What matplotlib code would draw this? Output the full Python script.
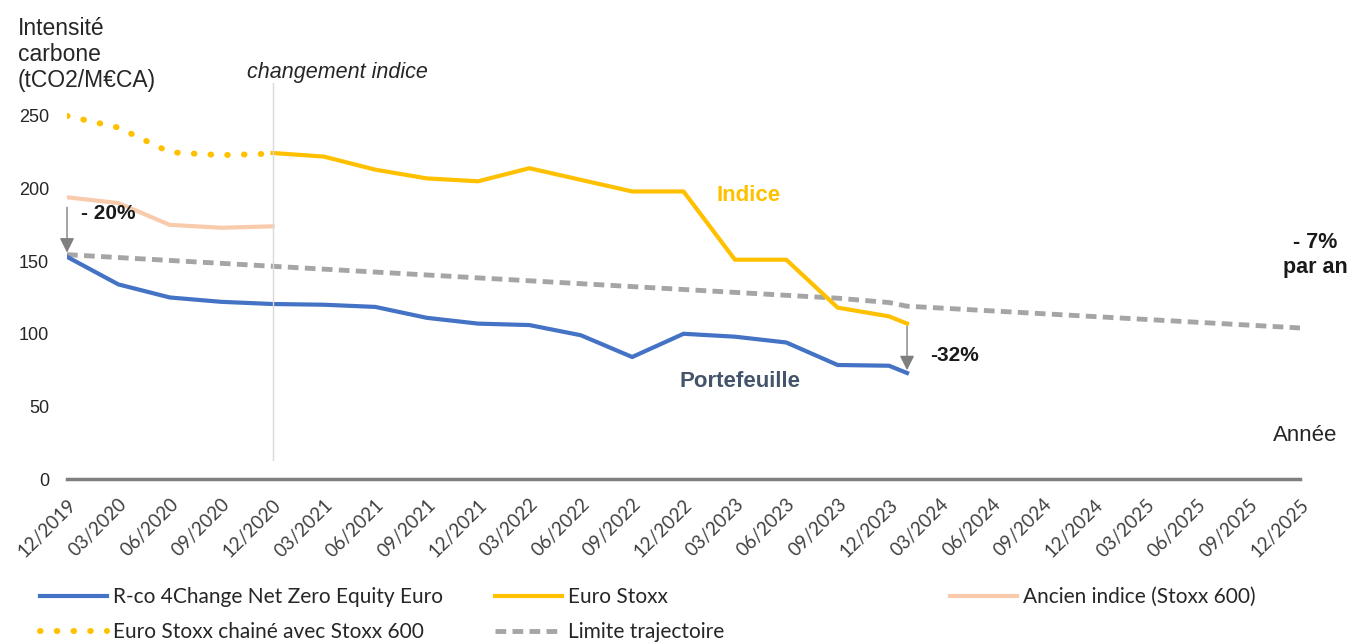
import matplotlib
matplotlib.use('Agg')
import matplotlib.pyplot as plt

plt.rcParams['font.family'] = ['Liberation Sans', 'DejaVu Sans']

dates = ['12/2019', '03/2020', '06/2020', '09/2020', '12/2020', '03/2021', '06/2021',
         '09/2021', '12/2021', '03/2022', '06/2022', '09/2022', '12/2022', '03/2023',
         '06/2023', '09/2023', '12/2023', '03/2024', '06/2024', '09/2024', '12/2024',
         '03/2025', '06/2025', '09/2025', '12/2025']

# positions en trimestres depuis 12/2019 (dernier point : fin janvier 2024)
pos_pf = [0, 1, 2, 3, 4, 5, 6, 7, 8, 9, 10, 11, 12, 13, 14, 15, 16, 16.35]
portefeuille = [153, 134, 125, 122, 120.5, 120, 118.5, 111, 107, 106, 99, 84, 100, 98,
                94, 78.5, 78, 73]
pos_es = [4, 5, 6, 7, 8, 9, 10, 11, 12, 13, 14, 15, 16, 16.35]
euro_stoxx = [224.5, 222, 213, 207, 205, 214, 206, 198, 198, 151, 151, 118, 112, 107]
pos_old = [0, 1, 2, 3, 4]
ancien_indice = [194, 190, 175, 173, 174]
chaine = [250, 242, 225, 223, 224]
pos_lim = [0, 1, 2, 3, 4, 5, 6, 7, 8, 9, 10, 11, 12, 13, 14, 15, 16, 16.35, 24]
limite = [154.5, 152.5, 150.5, 148.5, 146.5, 144.5, 142.5, 140.5, 138.5, 136.5, 134.5,
          132.5, 130.5, 128.5, 126.5, 124.5, 121.5, 119, 104]

BLUE = '#4472C4'
GOLD = '#FFC000'
PEACH = '#F8CBAD'
GREY = '#A5A5A5'
TXT = '#262626'

fig = plt.figure(figsize=(13.51, 6.44), dpi=100)
ax = fig.add_axes([0.0496, 0.2562, 0.9127, 0.61])

l_lim, = ax.plot(pos_lim, limite, color=GREY, lw=3.5, ls=(0, (2.2, 1.3)),
                 label='Limite trajectoire')
l_anc, = ax.plot(pos_old, ancien_indice, color=PEACH, lw=3, label='Ancien indice (Stoxx 600)')
l_ch, = ax.plot(pos_old, chaine, color=GOLD, lw=4.3, ls=(0, (0.1, 2.7)),
                dash_capstyle='round', label='Euro Stoxx chainé avec Stoxx 600')
l_es, = ax.plot(pos_es, euro_stoxx, color=GOLD, lw=3, label='Euro Stoxx')
l_pf, = ax.plot(pos_pf, portefeuille, color=BLUE, lw=3,
                label='R-co 4Change Net Zero Equity Euro')

ymax = 270.5
ax.set_xlim(0, len(dates) - 1)
ax.set_ylim(0, ymax)
ax.set_xticks(range(len(dates)))
ax.set_xticklabels(dates, rotation=45, ha='right', rotation_mode='anchor',
                   family=['Lato', 'DejaVu Sans'], fontsize=13.5, color='#404040')
ax.set_yticks([0, 50, 100, 150, 200, 250])
ax.tick_params(axis='y', length=0, labelsize=13, colors=TXT, pad=13)
ax.tick_params(axis='x', length=0, pad=12)
for s in ['top', 'right', 'left']:
    ax.spines[s].set_visible(False)
ax.spines['bottom'].set_color('#7F7F7F')
ax.spines['bottom'].set_linewidth(2.5)

# changement d'indice
ax.axvline(4, ymin=13 / ymax, ymax=273 / ymax, color='#D9D9D9', lw=1, clip_on=False)
ax.text(5.26, 280, 'changement indice', style='italic', fontsize=15.5, color=TXT,
        ha='center', va='center', clip_on=False)

# flèches
ax.annotate('', xy=(0, portefeuille[0] + 1), xytext=(0, ancien_indice[0] - 5),
            arrowprops=dict(arrowstyle='-|>', color='#7F7F7F', lw=1, mutation_scale=22))
ax.annotate('', xy=(pos_pf[-1], portefeuille[-1]), xytext=(pos_es[-1], euro_stoxx[-1]),
            arrowprops=dict(arrowstyle='-|>', color='#7F7F7F', lw=1, mutation_scale=22))

ax.text(0.27, 183, '- 20%', fontsize=15, fontweight='bold', color='#1a1a1a', va='center')
ax.text(16.8, 84.7, '-32%', fontsize=15, fontweight='bold', color='#1a1a1a', va='center')
ax.text(24.3, 154, '- 7%\npar an', fontsize=15.5, fontweight='bold', color='#1a1a1a',
        ha='center', va='center', clip_on=False, linespacing=1.25)
ax.text(13.26, 195, 'Indice', fontsize=16, fontweight='bold', color=GOLD, ha='center',
        va='center')
ax.text(13.1, 66.8, 'Portefeuille', fontsize=16, fontweight='bold', color='#44546A',
        ha='center', va='center')
ax.text(24.1, 30, 'Année', fontsize=16, color=TXT, ha='center', va='center',
        clip_on=False)

fig.text(0.0133, 1 - 17 / 644, 'Intensité\ncarbone\n(tCO2/M€CA)', fontsize=16.5,
         color=TXT, ha='left', va='top', linespacing=1.18)

# légende en trois colonnes fixes
cols = [([l_pf, l_ch], 40), ([l_es, l_lim], 495), ([l_anc], 950)]
for handles, xpix in cols:
    fig.legend(handles, [h.get_label() for h in handles], loc='upper left',
               bbox_to_anchor=(xpix / 1351, 1 - 587 / 644), frameon=False,
               prop={'family': ['Lato', 'DejaVu Sans'], 'size': 15},
               handlelength=3.2, handletextpad=0.3, labelspacing=0.72,
               borderpad=0, borderaxespad=0, labelcolor='#262626')

fig.savefig('out.png', dpi=100)
